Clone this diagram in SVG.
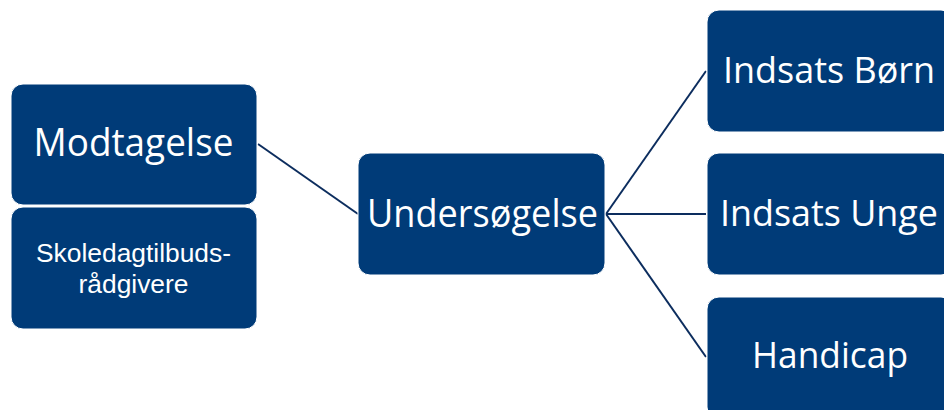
<svg xmlns="http://www.w3.org/2000/svg" width="944" height="410" viewBox="0 0 944 410">
<defs>
<style>
.box{fill:#003B78;stroke:#ffffff;stroke-width:1}
.t{fill:#ffffff;font-family:"Open Sans","Liberation Sans",sans-serif;text-anchor:middle}
.big{font-size:39px}
.mid{font-size:37px}
.small{font-family:"Liberation Sans","Open Sans",sans-serif;font-size:26px}
.conn{stroke:#0C2D5E;stroke-width:2;fill:none}
</style>
</defs>
<rect width="944" height="410" fill="#ffffff"/>
<g id="connectors">
<line class="conn" x1="258" y1="144" x2="358" y2="214"/>
<line class="conn" x1="606" y1="214" x2="706" y2="71"/>
<line class="conn" x1="606" y1="214" x2="706" y2="214"/>
<line class="conn" x1="606" y1="214" x2="706" y2="357"/>
</g>
<g id="modtagelse">
<rect class="box" x="11" y="84" width="246" height="121" rx="12"/>
<text class="t big" x="133.5" y="156" textLength="200" lengthAdjust="spacingAndGlyphs">Modtagelse</text>
</g>
<g id="skoledag">
<rect class="box" x="11" y="207" width="246" height="122" rx="12"/>
<text class="t small" x="133.5" y="262" textLength="195" lengthAdjust="spacingAndGlyphs">Skoledagtilbuds-</text>
<text class="t small" x="133.5" y="292.5" textLength="110" lengthAdjust="spacingAndGlyphs">rådgivere</text>
</g>
<g id="undersoegelse">
<rect class="box" x="358" y="153" width="247" height="122" rx="12"/>
<text class="t big" x="482.5" y="227" textLength="231" lengthAdjust="spacingAndGlyphs">Undersøgelse</text>
</g>
<g id="indsats-boern">
<rect class="box" x="707" y="10" width="246" height="122" rx="12"/>
<text class="t mid" x="829" y="83" textLength="212" lengthAdjust="spacingAndGlyphs">Indsats Børn</text>
</g>
<g id="indsats-unge">
<rect class="box" x="707" y="153" width="246" height="122" rx="12"/>
<text class="t mid" x="829" y="226" textLength="218" lengthAdjust="spacingAndGlyphs">Indsats Unge</text>
</g>
<g id="handicap">
<rect class="box" x="707" y="297" width="246" height="122" rx="12"/>
<text class="t mid" x="830" y="368" textLength="156" lengthAdjust="spacingAndGlyphs">Handicap</text>
</g>
</svg>
